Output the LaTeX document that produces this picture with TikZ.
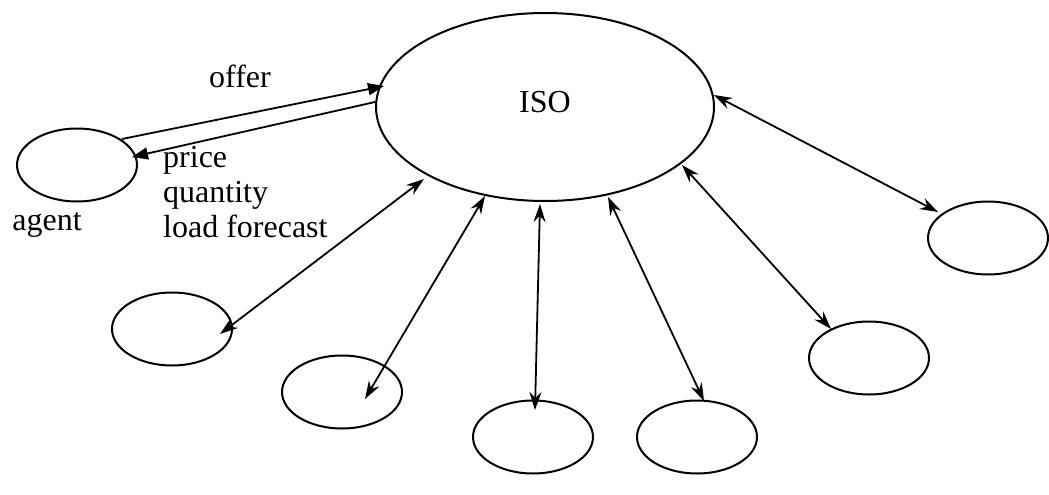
\documentclass[tikz,border=0pt]{standalone}
\usepackage{fontspec}
\setmainfont{Liberation Serif}
\usetikzlibrary{arrows.meta,calc,shapes.geometric}
\begin{document}
\begin{tikzpicture}[x=1pt,y=-1pt,
  oval/.style={draw,ellipse,line width=2pt,minimum width=120pt,minimum height=73pt,inner sep=0pt},
  biarrow/.style={line width=1.8pt,{Stealth[length=18pt,width=12pt,inset=6pt]}-{Stealth[length=18pt,width=12pt,inset=6pt]}},
  msg/.style={line width=1.8pt,-{Triangle[length=16pt,width=12pt]}},
  lbl/.style={font=\fontsize{32}{35}\selectfont,inner sep=0pt}]
\useasboundingbox (0,0) rectangle (1049,495);
\node[oval,minimum width=338pt,minimum height=188pt] (iso) at (545,107) {};
\node[lbl] at (545,102) (isot) {ISO};
\node[oval] (agent) at (77,165) {};
\node[oval] (e1) at (172,329) {};
\node[oval] (e2) at (342,392) {};
\node[oval] (e3) at (533,437) {};
\node[oval] (e4) at (697,437) {};
\node[oval] (e5) at (869,358) {};
\node[oval] (e6) at (988,238) {};
\node[lbl] (agentlbl) at (47,225) {agent};
\node[lbl] (offerlbl) at (240,76) {offer};
\node[lbl,anchor=north west,align=left] (pricelbl) at (163,146) {price\\quantity\\load forecast};
% endpoints
\coordinate (a1) at (122,139); \coordinate (i1) at (384,86);
\coordinate (i2) at (375,102); \coordinate (a2) at (132,157);
\coordinate (i3) at (424,179); \coordinate (p1) at (220,334);
\coordinate (i4) at (485,196); \coordinate (p2) at (365,399);
\coordinate (i5) at (540,204); \coordinate (p3) at (535,410);
\coordinate (i6) at (608,197); \coordinate (p4) at (704,401);
\coordinate (i7) at (682,165); \coordinate (p5) at (831,329);
\coordinate (i8) at (714,95); \coordinate (p6) at (938,212);
\draw[msg] (a1) -- (i1);
\draw[msg] (i2) -- (a2);
\draw[biarrow] (i3) -- (p1);
\draw[biarrow] (i4) -- (p2);
\draw[biarrow] (i5) -- (p3);
\draw[biarrow] (i6) -- (p4);
\draw[biarrow] (i7) -- (p5);
\draw[biarrow] (i8) -- (p6);
\end{tikzpicture}
\end{document}
